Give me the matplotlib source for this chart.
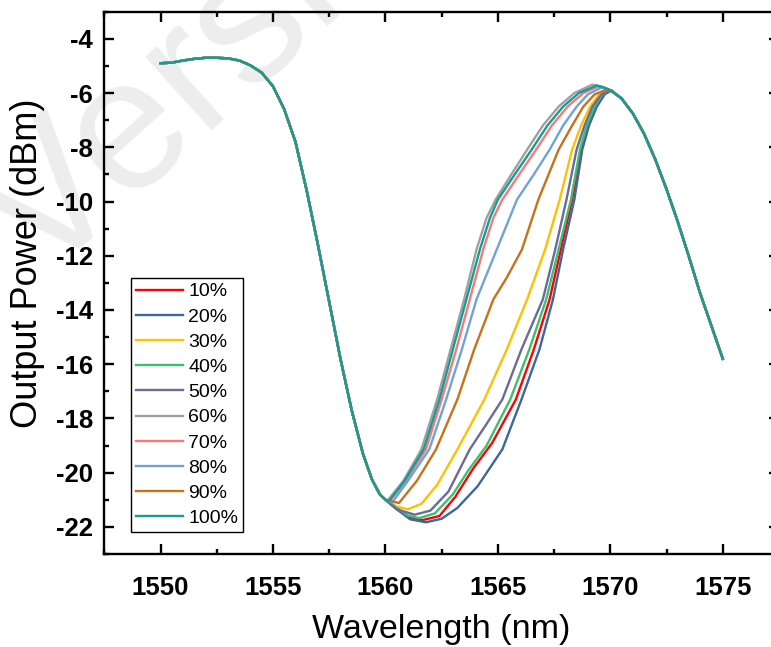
import matplotlib
matplotlib.use("Agg")
import matplotlib.pyplot as plt

plt.rcParams['axes.unicode_minus'] = False

#%% ─── Data ────────────────────────────────────────────────────────────────────

# part shared by every curve (left flank, 1550 -> 1560 nm)
wl_left  = [1550.0, 1550.5, 1551.0, 1551.5, 1552.0, 1552.5, 1553.0, 1553.5, 1554.0,
            1554.5, 1555.0, 1555.5, 1556.0, 1556.5, 1557.0, 1557.5, 1558.0, 1558.5,
            1559.0, 1559.4, 1559.75, 1560.0]
pw_left  = [-4.9, -4.88, -4.8, -4.74, -4.7, -4.7, -4.72, -4.8, -4.98,
            -5.25, -5.75, -6.6, -7.8, -9.6, -11.6, -13.7, -15.8, -17.7,
            -19.3, -20.25, -20.8, -21.0]

# part shared by every curve (right flank, 1570.1 -> 1575 nm)
wl_right = [1570.1, 1570.5, 1571.0, 1571.5, 1572.0, 1572.5, 1573.0, 1573.5, 1574.0, 1574.5, 1575.0]
pw_right = [-5.95, -6.2, -6.75, -7.5, -8.45, -9.55, -10.75, -12.05, -13.4, -14.6, -15.8]

labels = ['10%', '20%', '30%', '40%', '50%', '60%', '70%', '80%', '90%', '100%']
colors = ['#ff0000', '#3b66a0', '#ffc000', '#3cbf6e', '#6a6a9c',
          '#a0a0a0', '#ff7676', '#6fa3d8', '#c9701a', '#129e98']

# middle part of each curve (1560 -> 1570 nm)
wl_10  = [1560.5, 1561.0, 1561.65, 1562.4, 1563.1, 1563.9, 1564.75, 1565.8, 1566.6, 1567.3,
          1567.8, 1568.3, 1568.7, 1569.0, 1569.35, 1569.7, 1570.05]
pw_10  = [-21.3, -21.62, -21.75, -21.6, -20.9, -19.85, -18.9, -17.3, -15.45, -13.61,
          -11.77, -9.93, -8.09, -7.2, -6.5, -6.05, -5.9]
wl_20  = [1560.5, 1561.1, 1561.8, 1562.5, 1563.2, 1564.1, 1565.2, 1566.05, 1566.85, 1567.45,
          1567.9, 1568.4, 1568.75, 1569.05, 1569.4, 1569.75, 1570.05]
pw_20  = [-21.35, -21.72, -21.83, -21.7, -21.3, -20.5, -19.14, -17.3, -15.45, -13.61,
          -11.77, -9.93, -8.09, -7.2, -6.5, -6.05, -5.9]
wl_30  = [1560.5, 1561.0, 1561.6, 1562.3, 1563.2, 1564.4, 1565.4, 1566.3, 1567.1, 1567.75,
          1568.3, 1568.7, 1569.1, 1569.5, 1570.0]
pw_30  = [-21.25, -21.35, -21.15, -20.45, -19.14, -17.3, -15.45, -13.61, -11.77, -9.93,
          -8.09, -7.2, -6.5, -6.05, -5.88]
wl_40  = [1560.5, 1561.0, 1561.5, 1562.2, 1563.0, 1563.7, 1564.5, 1565.55, 1566.4, 1567.15,
          1567.7, 1568.25, 1568.65, 1568.95, 1569.3, 1569.65, 1570.05]
pw_40  = [-21.3, -21.58, -21.68, -21.5, -20.8, -19.9, -19.0, -17.3, -15.45, -13.61,
          -11.77, -9.93, -8.09, -7.2, -6.5, -6.05, -5.9]
wl_50  = [1560.5, 1561.3, 1562.0, 1562.8, 1563.75, 1564.5, 1565.2, 1566.05, 1567.0, 1567.55,
          1568.05, 1568.5, 1568.85, 1569.2, 1569.6, 1570.05]
pw_50  = [-21.35, -21.55, -21.4, -20.7, -19.14, -18.2, -17.3, -15.45, -13.61, -11.77,
          -9.93, -8.09, -7.2, -6.5, -6.05, -5.9]
wl_60  = [1560.1, 1560.8, 1561.6, 1562.3, 1562.9, 1563.5, 1564.05, 1564.5, 1564.9, 1565.6,
          1566.3, 1567.0, 1567.7, 1568.4, 1569.2, 1569.7]
pw_60  = [-21.02, -20.3, -19.14, -17.3, -15.45, -13.61, -11.77, -10.6, -9.93, -9.0,
          -8.09, -7.2, -6.5, -6.0, -5.69, -5.78]
wl_70  = [1560.2, 1560.9, 1561.8, 1562.5, 1563.15, 1563.75, 1564.35, 1564.8, 1565.2, 1565.95,
          1566.7, 1567.4, 1568.1, 1568.8, 1569.5, 1569.85]
pw_70  = [-21.05, -20.3, -19.14, -17.3, -15.45, -13.61, -11.77, -10.6, -9.93, -9.0,
          -8.09, -7.2, -6.5, -6.0, -5.75, -5.85]
wl_80  = [1560.3, 1561.0, 1561.95, 1562.7, 1563.4, 1564.05, 1564.95, 1565.85, 1566.6, 1567.3,
          1567.9, 1568.5, 1569.0, 1569.6, 1569.9]
pw_80  = [-21.1, -20.3, -19.14, -17.3, -15.45, -13.61, -11.77, -9.93, -9.0, -8.09,
          -7.2, -6.5, -6.05, -5.8, -5.86]
wl_90  = [1560.6, 1561.4, 1562.25, 1563.2, 1563.95, 1564.8, 1565.4, 1566.07, 1566.8, 1567.7,
          1568.3, 1568.8, 1569.3, 1569.9]
pw_90  = [-21.12, -20.3, -19.14, -17.3, -15.45, -13.61, -12.8, -11.77, -9.93, -8.09,
          -7.2, -6.5, -6.05, -5.85]
wl_100 = [1560.15, 1560.85, 1561.7, 1562.4, 1563.0, 1563.6, 1564.2, 1564.65, 1565.0, 1565.75,
          1566.5, 1567.2, 1567.9, 1568.6, 1569.4, 1569.8]
pw_100 = [-21.05, -20.3, -19.14, -17.3, -15.45, -13.61, -11.77, -10.6, -9.93, -9.0,
          -8.09, -7.2, -6.5, -6.0, -5.72, -5.82]

middles = [(wl_10, pw_10), (wl_20, pw_20), (wl_30, pw_30), (wl_40, pw_40), (wl_50, pw_50),
           (wl_60, pw_60), (wl_70, pw_70), (wl_80, pw_80), (wl_90, pw_90), (wl_100, pw_100)]

#%% ─── Figure ───────────────────────────────────────────────────────────────────

W, H = 771, 647
fig = plt.figure(figsize=(W / 100, H / 100), dpi=100)

# axes box runs past the right edge of the picture (the reference is cropped)
x0, x1, y_top, y_bot = 104.3, 779.0, 11.7, 554.0
ax = fig.add_axes([x0 / W, (H - y_bot) / H, (x1 - x0) / W, (y_bot - y_top) / H])
ax.set_facecolor('none')

# faint watermark behind everything
fig.text(40 / W, (H - 285) / H, 'Version', fontsize=135, color='#ededed', rotation=42,
         rotation_mode='anchor', family='Liberation Sans', ha='left', va='baseline',
         zorder=-1)

for (wl_mid, pw_mid), lab, col in zip(middles, labels, colors):
    ax.plot(wl_left + wl_mid + wl_right, pw_left + pw_mid + pw_right,
            color=col, lw=1.7, label=lab)

ax.set_xlim(1547.5, 1577.5)
ax.set_ylim(-23, -3)
ax.set_xticks([1550, 1555, 1560, 1565, 1570, 1575])
ax.set_xticks([1547.5 + 2.5 * k for k in range(13)], minor=True)
ax.set_yticks(list(range(-22, -3, 2)))
ax.set_yticks(list(range(-23, -2)), minor=True)

for s in ax.spines.values():
    s.set_linewidth(1.7)
ax.tick_params(which='both', direction='in', top=True, right=True, width=1.7)
ax.tick_params(which='major', length=7.5)
ax.tick_params(which='minor', length=3.8)
ax.tick_params(axis='x', which='major', pad=16)
ax.tick_params(axis='y', which='major', pad=8)

tick_font = ['Liberation Sans Narrow', 'Liberation Sans', 'DejaVu Sans']
for t in ax.get_xticklabels() + ax.get_yticklabels():
    t.set_family(tick_font)
    t.set_fontweight('bold')
    t.set_fontsize(18.5)

ax.set_xlabel('Wavelength (nm)', family='Liberation Sans', fontsize=24.5, labelpad=10)
ax.set_ylabel('Output Power (dBm)', family='Liberation Sans', fontsize=26)
ax.yaxis.set_label_coords(-0.088, 0.537)

leg = ax.legend(loc='lower left', bbox_to_anchor=((131 - x0) / (x1 - x0), (y_bot - 532) / (y_bot - y_top)),
                borderaxespad=0, prop={'family': 'Liberation Sans', 'size': 14},
                frameon=True, fancybox=False, edgecolor='black', framealpha=1,
                handlelength=2.4, handletextpad=0.3, labelspacing=0.39, borderpad=0.25)
leg.get_frame().set_linewidth(1.0)

fig.savefig('out.png', dpi=100)
